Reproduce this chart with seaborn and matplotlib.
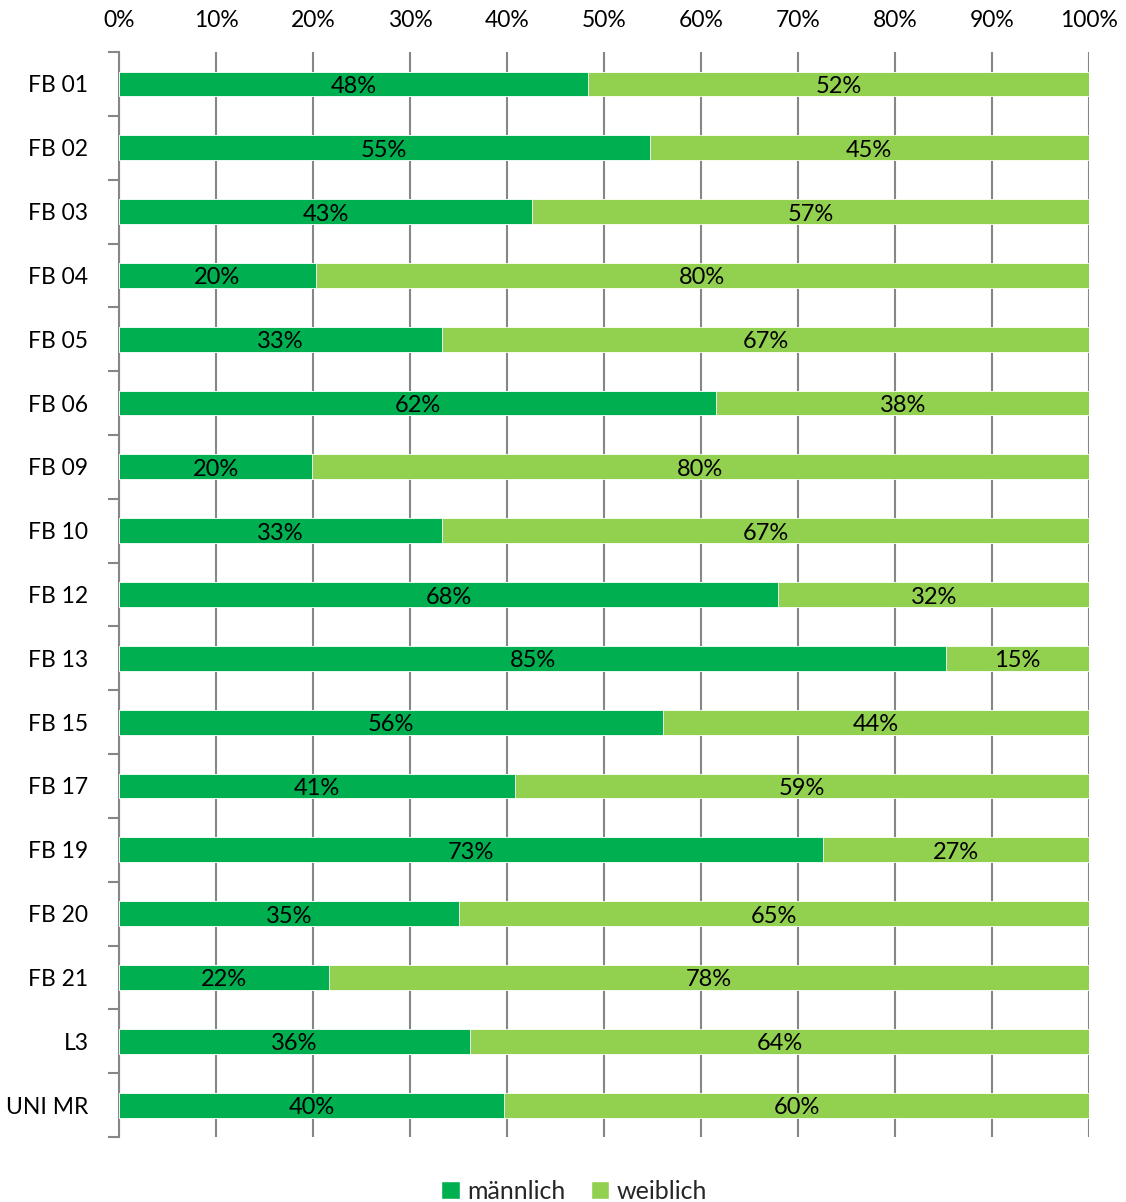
import matplotlib
matplotlib.use("Agg")
import matplotlib.pyplot as plt
import seaborn as sns
import pandas as pd
from matplotlib.patches import Patch
from matplotlib.ticker import MultipleLocator, PercentFormatter

categories = ["FB 01", "FB 02", "FB 03", "FB 04", "FB 05", "FB 06", "FB 09", "FB 10",
              "FB 12", "FB 13", "FB 15", "FB 17", "FB 19", "FB 20", "FB 21", "L3", "UNI MR"]
maennlich = [48.4, 54.7, 42.6, 20.3, 33.3, 61.6, 19.9, 33.3, 68.0, 85.3, 56.1, 40.8, 72.6, 35.1, 21.6, 36.2, 39.7]
weiblich = [51.6, 45.3, 57.4, 79.7, 66.7, 38.4, 80.1, 66.7, 32.0, 14.7, 43.9, 59.2, 27.4, 64.9, 78.4, 63.8, 60.3]
series_names = ["männlich", "weiblich"]
colors = ["#00B050", "#92D050"]

sns.set_theme(style="white")
plt.rcParams["font.family"] = ["Lato", "DejaVu Sans"]

df = pd.DataFrame({"cat": categories, "m": maennlich, "w": weiblich})
df["total"] = df["m"] + df["w"]

fig = plt.figure(figsize=(11.26, 12.02), dpi=100)
ax = fig.add_axes([0.1057, 0.0541, 0.967 - 0.1057, 0.9567 - 0.0541])

sns.barplot(data=df, y="cat", x="total", orient="h", color=colors[1], width=0.39,
            saturation=1, ax=ax, zorder=3, edgecolor="white", linewidth=0.6)
sns.barplot(data=df, y="cat", x="m", orient="h", color=colors[0], width=0.39,
            saturation=1, ax=ax, zorder=4, edgecolor="white", linewidth=0.6)

for i, (m, w) in enumerate(zip(maennlich, weiblich)):
    ax.text(m / 2, i + 0.04, f"{m:.0f}%", ha="center", va="center", fontsize=17, color="black", zorder=5)
    ax.text(m + w / 2, i + 0.04, f"{w:.0f}%", ha="center", va="center", fontsize=17, color="black", zorder=5)

ax.set_xlim(0, 100)
ax.set_ylim(len(categories) - 0.5, -0.5)
ax.xaxis.set_major_locator(MultipleLocator(10))
ax.xaxis.set_major_formatter(PercentFormatter(decimals=0))
ax.xaxis.tick_top()
ax.tick_params(axis="x", which="major", length=0, pad=15, labelsize=16.5, colors="black")
ax.grid(axis="x", color="#868686", linewidth=1.5, zorder=0)
ax.set_axisbelow(True)

ax.set_yticks(range(len(categories)))
ax.set_yticklabels(categories)
ax.tick_params(axis="y", which="major", length=0, pad=22, labelsize=16.5, colors="black")
ax.set_yticks([i - 0.5 for i in range(len(categories) + 1)], minor=True)
ax.tick_params(axis="y", which="minor", length=8, width=1.5, color="#868686", direction="out", left=True)
for lbl in ax.get_yticklabels():
    lbl.set_horizontalalignment("right")

for s in ["top", "right", "bottom"]:
    ax.spines[s].set_visible(False)
ax.spines["left"].set_color("#868686")
ax.spines["left"].set_linewidth(1.5)
ax.set_xlabel("")
ax.set_ylabel("")

handles = [Patch(facecolor=c, label=n) for c, n in zip(colors, series_names)]
fig.legend(handles=handles, loc="center", bbox_to_anchor=(0.51, 0.009), ncol=2, frameon=False,
           fontsize=18, handlelength=0.75, handleheight=0.75, handletextpad=0.3, columnspacing=1.0)

fig.savefig("out.png", dpi=100)
